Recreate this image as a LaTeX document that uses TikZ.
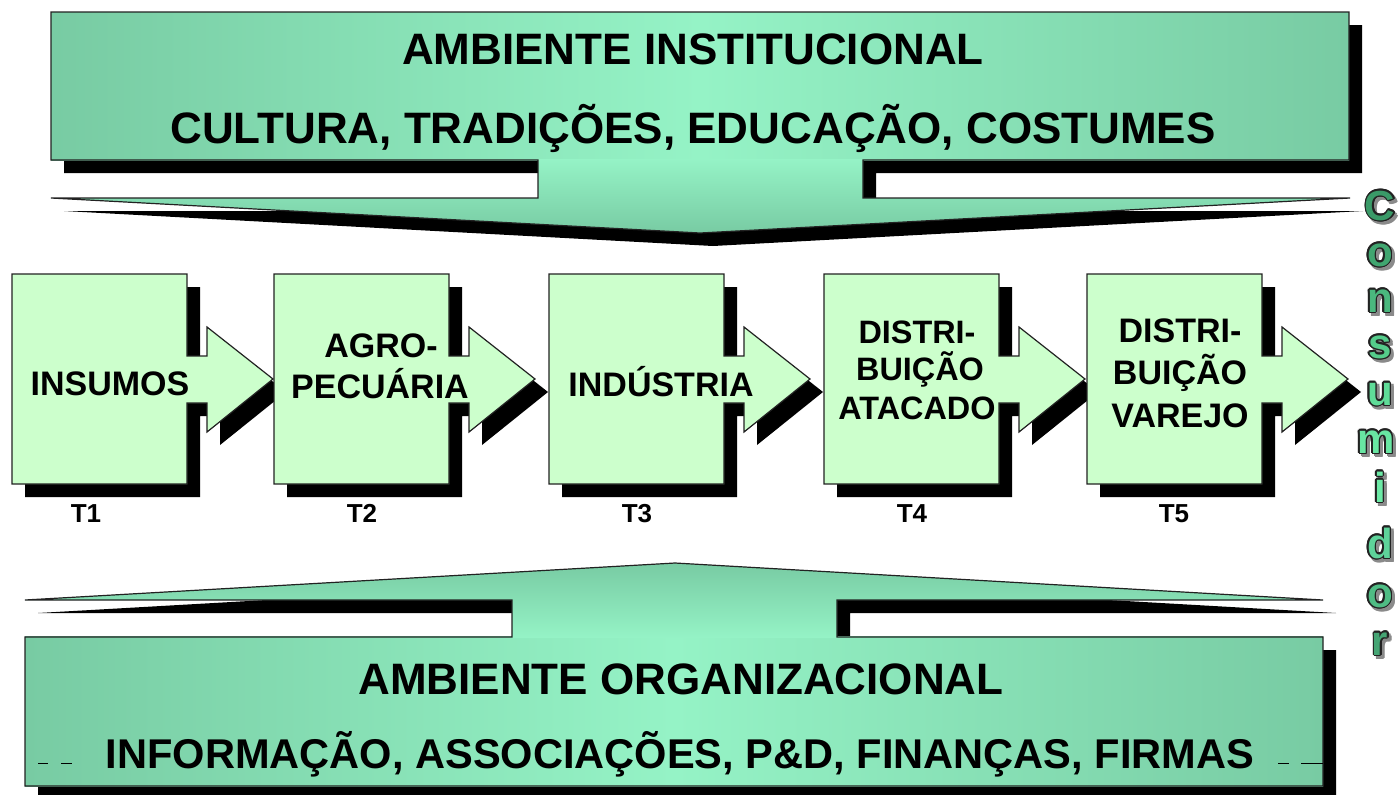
\documentclass[tikz,border=0pt]{standalone}
\usepackage{fontspec}
\setmainfont{Liberation Sans}
\definecolor{edgegreen}{HTML}{78CBA3}
\definecolor{lightgreen}{HTML}{95F3C6}
\definecolor{boxgreen}{HTML}{CCFFCC}
\definecolor{outl}{HTML}{222222}
\definecolor{shadowgray}{HTML}{8A8A8A}
\definecolor{ca}{HTML}{3A9A68}
\definecolor{cb}{HTML}{40A670}
\definecolor{cc}{HTML}{4AB87E}
\definecolor{cd}{HTML}{55CC8B}
\definecolor{ce}{HTML}{5FDC98}
\definecolor{cf}{HTML}{68E6A2}
\definecolor{cg}{HTML}{6CEAA6}
\definecolor{ch}{HTML}{5ED39A}
\definecolor{ci}{HTML}{4FBC84}
\definecolor{cj}{HTML}{45A574}
\begin{document}
\begin{tikzpicture}[x=0.5pt,y=-0.5pt,
  bigline/.style={draw=outl, line width=0.6pt, line join=miter},
  procfill/.style={draw=outl, line width=0.6pt, fill=boxgreen, line join=miter},
  bigtext/.style={anchor=base, inner sep=0pt, font=\fontsize{22}{26}\selectfont\bfseries},
  bigtextb/.style={anchor=base, inner sep=0pt, font=\fontsize{20.8}{25}\selectfont\bfseries},
  ptext/.style={anchor=base, inner sep=0pt, font=\fontsize{17}{20}\selectfont\bfseries},
  ptextsmall/.style={anchor=base, inner sep=0pt, font=\fontsize{16.2}{19}\selectfont\bfseries},
  ttext/.style={anchor=base, inner sep=0pt, font=\fontsize{13}{15}\selectfont\bfseries},
  cons/.style={anchor=base, inner sep=0pt, font=\fontsize{21}{25}\selectfont\bfseries},
  leader/.style={draw=black, line width=0.5pt}]
\useasboundingbox (0,0) rectangle (1398,794);

% ---------- top block arrow (institutional environment) ----------
\fill[black, shift={(13,13)}] (51,12)--(1349,12)--(1349,160)--(863,160)--(863,198)--(1350,198)--(700,233)--(51,198)--(538,198)--(538,160)--(51,160)--cycle;
\shade[left color=edgegreen, right color=edgegreen, middle color=lightgreen] (51,12) rectangle (1349,160.5);
\shade[top color=lightgreen, bottom color=edgegreen] (538,159)--(863,159)--(863,198)--(1350,198)--(700,233)--(51,198)--(538,198)--cycle;
\draw[bigline] (51,12)--(1349,12)--(1349,160)--(863,160)--(863,198)--(1350,198)--(700,233)--(51,198)--(538,198)--(538,160)--(51,160)--cycle;
\node[bigtext] (inst1) at (693,64) {AMBIENTE INSTITUCIONAL};
\node[bigtext] (inst2) at (693,143) {CULTURA, TRADIÇÕES, EDUCAÇÃO, COSTUMES};

% ---------- bottom block arrow (organizational environment) ----------
\fill[black, shift={(13,13)}] (25,637)--(512,637)--(512,600)--(25,600)--(675,563)--(1323,600)--(837,600)--(837,637)--(1323,637)--(1323,786)--(25,786)--cycle;
\shade[left color=edgegreen, right color=edgegreen, middle color=lightgreen] (25,636.5) rectangle (1323,786);
\shade[top color=edgegreen, bottom color=lightgreen] (25,600)--(675,563)--(1323,600)--(837,600)--(837,638)--(512,638)--(512,600)--cycle;
\draw[bigline] (25,637)--(512,637)--(512,600)--(25,600)--(675,563)--(1323,600)--(837,600)--(837,637)--(1323,637)--(1323,786)--(25,786)--cycle;
\node[bigtext] (org1) at (681,694) {AMBIENTE ORGANIZACIONAL};
\node[bigtextb] (org2) at (680,768) {INFORMAÇÃO, ASSOCIAÇÕES, P\&D, FINANÇAS, FIRMAS};
\draw[leader] (38,763)--(48,763) (61,763)--(72,763) (1278,763)--(1289,763) (1301,763)--(1323,763);

% ---------- process boxes with arrows ----------
\foreach \px in {12,274,549,824,1087}{
  \begin{scope}[shift={(\px,0)}]
    \fill[black, shift={(13,13)}] (0,274)--(175,274)--(175,356)--(195,356)--(195,327)--(261,379)--(195,432)--(195,403)--(175,403)--(175,484)--(0,484)--cycle;
    \draw[procfill] (0,274)--(175,274)--(175,356)--(195,356)--(195,327)--(261,379)--(195,432)--(195,403)--(175,403)--(175,484)--(0,484)--cycle;
  \end{scope}
}
\node[ptext] (p1) at (110,395) {INSUMOS};
\node[ptext] (p2a) at (381,357) {AGRO-};
\node[ptext] (p2b) at (380,398) {PECUÁRIA};
\node[ptext] (p3) at (661,396) {INDÚSTRIA};
\node[ptextsmall] (p4a) at (917,343) {DISTRI-};
\node[ptextsmall] (p4b) at (920,380) {BUIÇÃO};
\node[ptextsmall] (p4c) at (917,419) {ATACADO};
\node[ptext] (p5a) at (1180,342) {DISTRI-};
\node[ptext] (p5b) at (1180,384) {BUIÇÃO};
\node[ptext] (p5c) at (1180,427) {VAREJO};

\node[ttext] (t1) at (86,522) {T1};
\node[ttext] (t2) at (362,522) {T2};
\node[ttext] (t3) at (637,522) {T3};
\node[ttext] (t4) at (912,522) {T4};
\node[ttext] (t5) at (1174,522) {T5};

% ---------- Consumidor (vertical, outlined letters) ----------
\foreach \lt/\xx/\yy/\col [count=\kk] in {C/1380/220/ca, o/1380/266/cb, n/1380/312/cc, s/1380/358/cd, u/1380/405/ce, m/1376/453/cf, i/1380/502/cg, d/1380/558/ch, o/1380/607/ci, r/1380/655/cj}{
  \foreach \an in {0,45,...,315}{
    \node[cons, text=shadowgray, xshift={1.4pt+0.8pt*cos(\an)}, yshift={-1.5pt+0.8pt*sin(\an)}] at (\xx,\yy) {\lt};
  }
  \foreach \an in {0,30,...,330}{
    \node[cons, text=outl, xshift={0.8pt*cos(\an)}, yshift={0.8pt*sin(\an)}] at (\xx,\yy) {\lt};
  }
  \node[cons, text=\col] (cons\kk) at (\xx,\yy) {\lt};
}
\end{tikzpicture}
\end{document}
